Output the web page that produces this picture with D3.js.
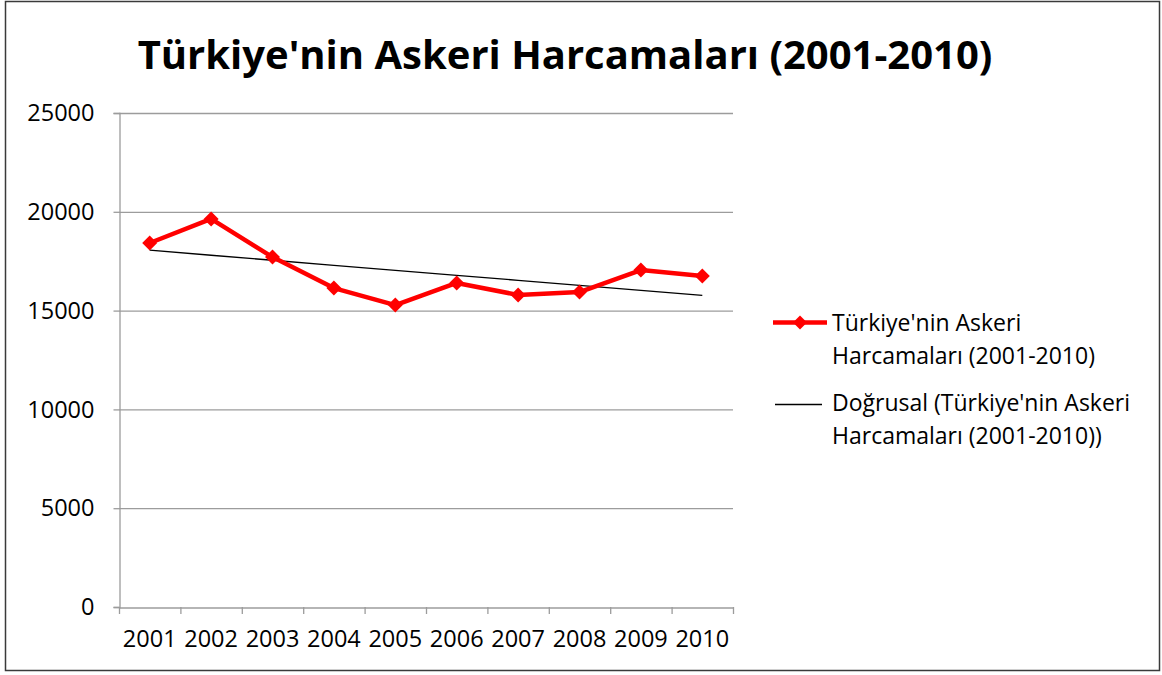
<!DOCTYPE html>
<html>
<head>
<meta charset="utf-8">
<script src="https://cdn.jsdelivr.net/npm/d3@7"></script>
<style>
  body { margin: 0; background: #fff; }
  text { font-family: "Open Sans", sans-serif; fill: #000; }
</style>
</head>
<body>
<div id="chart"></div>
<script>
// Chart data
const years = ["2001", "2002", "2003", "2004", "2005", "2006", "2007", "2008", "2009", "2010"];
const spending = [18420, 19640, 17710, 16140, 15280, 16400, 15790, 15940, 17050, 16750];
const yTicks = [0, 5000, 10000, 15000, 20000, 25000];
const chartTitle = "Türkiye'nin Askeri Harcamaları (2001-2010)";
const seriesName = ["Türkiye'nin Askeri", "Harcamaları (2001-2010)"];
const trendName = ["Doğrusal (Türkiye'nin Askeri", "Harcamaları (2001-2010))"];

const W = 1162, H = 675;
const plot = {left: 119, right: 733, top: 113, bottom: 607};

const svg = d3.select("#chart").append("svg")
    .attr("width", W)
    .attr("height", H);

svg.append("rect")
    .attr("x", 5.5).attr("y", 1.5)
    .attr("width", 1154).attr("height", 669)
    .attr("fill", "#fff")
    .attr("stroke", "#3a3a3a")
    .attr("stroke-width", 1.5);

const x = d3.scaleBand().domain(years).range([plot.left, plot.right]);
const y = d3.scaleLinear().domain([0, 25000]).range([plot.bottom, plot.top]);
const cx = d => x(d) + x.bandwidth() / 2;

// gridlines
svg.append("g").selectAll("line")
    .data(yTicks.filter(d => d > 0))
    .join("line")
    .attr("x1", plot.left).attr("x2", plot.right)
    .attr("y1", d => y(d) + 0.5).attr("y2", d => y(d) + 0.5)
    .attr("stroke", "#9c9c9c").attr("stroke-width", 1.3);

// y axis
const yAxis = svg.append("g")
    .attr("transform", `translate(${plot.left + 0.5},0)`)
    .call(d3.axisLeft(y).tickValues(yTicks).tickSize(6).tickFormat(d3.format("d")));
yAxis.select(".domain").attr("stroke", "#9c9c9c").attr("stroke-width", 1.3);
yAxis.selectAll(".tick line").attr("stroke", "#9c9c9c").attr("stroke-width", 1.3);
yAxis.selectAll(".tick text")
    .attr("x", -25).attr("dy", "0.33em")
    .style("font-size", "23.5px");

// x axis
const xAxis = svg.append("g")
    .attr("transform", `translate(0,${plot.bottom + 0.5})`)
    .call(d3.axisBottom(x).tickSize(0).tickPadding(23));
xAxis.select(".domain").attr("stroke", "#9c9c9c").attr("stroke-width", 1.3);
xAxis.selectAll(".tick text").style("font-size", "23.5px");
svg.append("g").selectAll("line")
    .data(years.concat(["end"]))
    .join("line")
    .attr("x1", (d, i) => plot.left + i * x.bandwidth() + 0.5)
    .attr("x2", (d, i) => plot.left + i * x.bandwidth() + 0.5)
    .attr("y1", plot.bottom).attr("y2", plot.bottom + 7)
    .attr("stroke", "#9c9c9c").attr("stroke-width", 1.3);

// linear trend (least squares, like the spreadsheet trendline)
const n = spending.length;
const mx = (n + 1) / 2;
const my = d3.mean(spending);
const slope = d3.sum(spending, (v, i) => (i + 1 - mx) * (v - my)) / d3.sum(spending, (v, i) => (i + 1 - mx) ** 2);
const trend = spending.map((v, i) => my + slope * (i + 1 - mx));

svg.append("path")
    .datum(trend)
    .attr("fill", "none")
    .attr("stroke", "#000")
    .attr("stroke-width", 1.3)
    .attr("d", d3.line().x((d, i) => cx(years[i])).y(d => y(d)));

// main series
svg.append("path")
    .datum(spending)
    .attr("fill", "none")
    .attr("stroke", "#ff0000")
    .attr("stroke-width", 4.5)
    .attr("stroke-linejoin", "round")
    .attr("d", d3.line().x((d, i) => cx(years[i])).y(d => y(d)));

const diamond = r => `M0,${-r}L${r},0L0,${r}L${-r},0Z`;
svg.append("g").selectAll("path")
    .data(spending)
    .join("path")
    .attr("transform", (d, i) => `translate(${cx(years[i])},${y(d)})`)
    .attr("d", diamond(7.5))
    .attr("fill", "#ff0000");

// title
svg.append("text")
    .attr("x", 565).attr("y", 69)
    .attr("text-anchor", "middle")
    .style("font-size", "40px")
    .style("font-weight", "bold")
    .text(chartTitle);

// legend
const lg = svg.append("g");
lg.append("line")
    .attr("x1", 773).attr("x2", 827).attr("y1", 322.5).attr("y2", 322.5)
    .attr("stroke", "#ff0000").attr("stroke-width", 4.5);
lg.append("path")
    .attr("transform", "translate(800,322.5)")
    .attr("d", diamond(7))
    .attr("fill", "#ff0000");
lg.append("line")
    .attr("x1", 775).attr("x2", 822).attr("y1", 404.5).attr("y2", 404.5)
    .attr("stroke", "#000").attr("stroke-width", 1.3);

const legendLines = [
    {t: seriesName[0], y: 331}, {t: seriesName[1], y: 364},
    {t: trendName[0], y: 411}, {t: trendName[1], y: 444}
];
lg.selectAll("text")
    .data(legendLines)
    .join("text")
    .attr("x", 832).attr("y", d => d.y)
    .style("font-size", "23px")
    .text(d => d.t);
</script>
</body>
</html>
